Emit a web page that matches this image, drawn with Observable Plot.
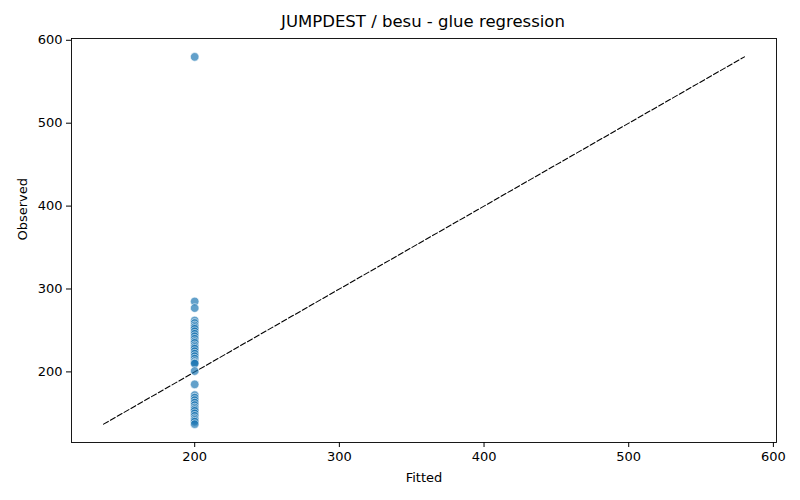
<!DOCTYPE html>
<html>
<head>
<meta charset="utf-8">
<script src="https://cdn.jsdelivr.net/npm/d3@7"></script>
<script src="https://cdn.jsdelivr.net/npm/@observablehq/plot@0.6"></script>
<style>
  html, body { margin: 0; padding: 0; background: #fff; }
  #title { width: 800px; height: 30px; box-sizing: border-box; padding-top: 14px; line-height: 16px;
           font-family: "DejaVu Sans", sans-serif; font-size: 16.5px; color: #000;
           padding-left: 46px; text-align: center; }
</style>
</head>
<body>
<div id="title">JUMPDEST / besu - glue regression</div>
<div id="chart"></div>
<script>
const titleText = "JUMPDEST / besu - glue regression";
const xLabel = "Fitted";
const yLabel = "Observed";
const fittedValue = 200;
const observed = [580, 285, 277, 262, 259, 256, 254, 252, 249, 246, 243, 240, 237, 235, 232, 230, 228, 225, 222, 219, 216, 213, 211, 210, 201, 185, 172, 169, 166, 163, 160, 157, 155, 153, 150, 147, 144, 142, 140, 137];
const xTicks = [200, 300, 400, 500, 600];
const yTicks = [200, 300, 400, 500, 600];

const points = observed.map(o => ({fitted: fittedValue, observed: o}));
const lo = Math.min(d3.min(observed), fittedValue);
const hi = Math.max(d3.max(observed), fittedValue);
const refLine = [{v: lo}, {v: hi}];
const pad = (hi - lo) * 0.05;

const plot = Plot.plot({
  width: 800,
  height: 470,
  marginTop: 8,
  marginBottom: 58,
  marginLeft: 71,
  marginRight: 24,
  style: {fontFamily: "DejaVu Sans, sans-serif", fontSize: "13px", color: "#000", background: "#fff"},
  x: {domain: [lo - pad, hi + pad]},
  y: {domain: [lo - pad, hi + pad]},
  marks: [
    Plot.frame({stroke: "#000", strokeWidth: 0.9}),
    Plot.axisX({ticks: xTicks, tickSize: 5, tickPadding: 4, label: null, fontSize: 13}),
    Plot.axisY({ticks: yTicks, tickSize: 5, tickPadding: 4, label: null, fontSize: 13}),
    Plot.line(refLine, {x: "v", y: "v", stroke: "#000", strokeWidth: 1.1, strokeDasharray: "5.5,2.4"}),
    Plot.dot(points, {x: "fitted", y: "observed", r: 4.3, fill: "#1f77b4", fillOpacity: 0.7, stroke: "#fff", strokeWidth: 0.6}),
    Plot.text([xLabel], {frameAnchor: "bottom", dy: 35, text: d => d, fontSize: 13, lineAnchor: "middle"}),
    Plot.text([yLabel], {frameAnchor: "left", dx: -49, text: d => d, fontSize: 13, rotate: -90, lineAnchor: "middle"})
  ]
});
document.getElementById("chart").appendChild(plot);
</script>
</body>
</html>
